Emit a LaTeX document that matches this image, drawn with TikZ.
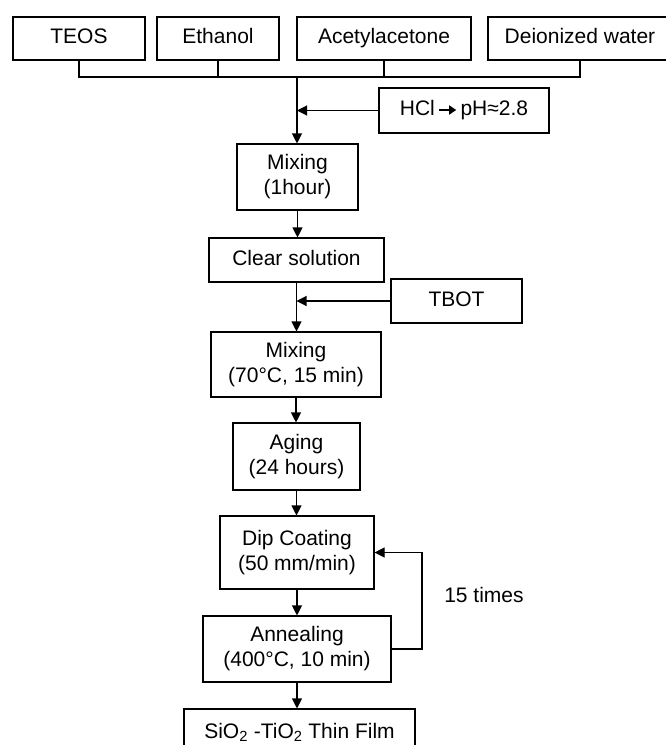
\documentclass[tikz,border=0pt]{standalone}
\usepackage{fontspec}
\setmainfont{Liberation Sans}
\usetikzlibrary{arrows.meta}

\begin{document}
\begin{tikzpicture}[x=1pt, y=-1pt, line width=1.1pt,
                box/.style={draw, rectangle, inner sep=0pt, align=center,
                    font=\fontsize{21}{25}\selectfont},
                single/.style={text height=15pt, text depth=5pt},
                flow/.style={-{Triangle[length=10pt, width=10pt]}}]
                \useasboundingbox (0,0) rectangle (665,745);

                % raw materials
                \node[box, single, minimum width=132, minimum height=43] (teos) at (79, 38.5) {TEOS};
                \node[box, single, minimum width=122, minimum height=43] (ethanol) at (218, 38.5) {Ethanol};
                \node[box, single, minimum width=174, minimum height=43] (acac) at (384, 38.5) {Acetylacetone};
                \node[box, single, minimum width=184, minimum height=43] (water) at (580, 38.5) {Deionized water};
                \coordinate (bus) at (297, 77);

                % process steps
                \node[box, single, minimum width=170, minimum height=45] (hcl) at (464, 110.5)
                    {HCl\,\tikz[baseline=-5.5pt]\draw[line width=1.6pt, -{Triangle[length=7pt, width=9pt]}] (0,0) -- (17pt,0);\,pH≈2.8};
                \node[box, minimum width=121, minimum height=66] (mix1) at (297.5, 177) {Mixing\\(1hour)};
                \node[box, single, minimum width=175, minimum height=44] (clear) at (296.5, 260) {Clear solution};
                \node[box, single, minimum width=131, minimum height=44] (tbot) at (456.5, 301) {TBOT};
                \node[box, minimum width=170, minimum height=65] (mix2) at (296, 364.5) {Mixing\\(70°C, 15 min)};
                \node[box, minimum width=127, minimum height=67] (aging) at (296.5, 456.5) {Aging\\(24 hours)};
                \node[box, minimum width=154, minimum height=73] (dip) at (297, 552.5) {Dip Coating\\(50 mm/min)};
                \node[box, minimum width=188, minimum height=66] (anneal) at (297, 649) {Annealing\\(400°C, 10 min)};
                \node[box, single, minimum width=231, minimum height=48] (film) at (299.5, 733) {SiO\textsubscript{2} -TiO\textsubscript{2} Thin Film};
                \node[font=\fontsize{21}{25}\selectfont] (times) at (484, 595) {15 times};
                \coordinate (loop) at (422, 0);

                \draw (teos.south) -- (teos.south |- bus) -- (water.south |- bus) -- (water.south);
                \draw (ethanol.south) -- (ethanol.south |- bus);
                \draw (acac.south) -- (acac.south |- bus);
                \draw[flow] (bus) -- (bus |- mix1.north);
                \draw[flow] (hcl.west) -- (hcl.west -| bus);
                \draw[flow] (mix1) -- (mix1 |- clear.north);
                \draw[flow] (clear) -- (clear |- mix2.north);
                \draw[flow] (tbot.west) -- (tbot.west -| clear);
                \draw[flow] (mix2) -- (mix2 |- aging.north);
                \draw[flow] (aging) -- (aging |- dip.north);
                \draw[flow] (dip) -- (dip |- anneal.north);
                \draw[flow] (anneal) -- (anneal |- film.north);
                \draw[flow] (anneal.east) -- (anneal.east -| loop) -- (dip.east -| loop) -- (dip.east);
            \end{tikzpicture}
\end{document}
